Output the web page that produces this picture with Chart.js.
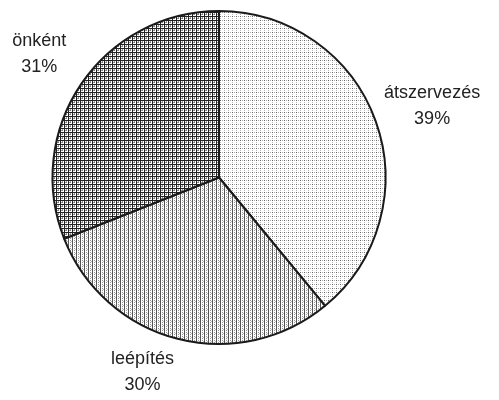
<!DOCTYPE html>
<html>
<head>
<meta charset="utf-8">
<script src="https://cdn.jsdelivr.net/npm/chart.js@4"></script>
<style>
  html, body { margin: 0; padding: 0; background: #fff; }
  #wrap { width: 499px; height: 400px; }
</style>
</head>
<body>
<div id="wrap"><canvas id="pie"></canvas></div>
<script>
const categories = ['átszervezés', 'leépítés', 'önként'];
const shares = [39, 30, 31];
const percentLabels = ['39%', '30%', '31%'];

// label anchor offsets from the pie centre, in multiples of the radius
const labelOffsets = [[1.28, -0.43], [-0.46, 1.17], [-1.08, -0.74]];

function makePattern(kind) {
    const tile = document.createElement('canvas');
    tile.width = 4;
    tile.height = 4;
    const c = tile.getContext('2d');
    c.fillStyle = '#fff';
    c.fillRect(0, 0, 4, 4);
    if (kind === 'dots') {
        c.fillStyle = '#666';
        c.fillRect(0, 0, 1, 1);
        c.fillStyle = '#aaa';
        c.fillRect(2, 0, 1, 1);
        c.fillStyle = '#bbb';
        c.fillRect(0, 2, 1, 1);
    } else if (kind === 'stripes') {
        c.fillStyle = '#555';
        c.fillRect(0, 0, 1, 4);
        c.fillStyle = '#999';
        c.fillRect(2, 0, 1, 1);
        c.fillRect(2, 2, 1, 1);
        c.fillStyle = '#bbb';
        c.fillRect(3, 1, 1, 1);
    } else {
        c.fillStyle = '#222';
        c.fillRect(0, 0, 4, 1);
        c.fillRect(0, 0, 1, 4);
        c.fillStyle = '#777';
        c.fillRect(2, 2, 1, 1);
        c.fillStyle = '#999';
        c.fillRect(2, 1, 1, 1);
        c.fillRect(1, 2, 1, 1);
    }
    return document.getElementById('pie').getContext('2d').createPattern(tile, 'repeat');
}

const sliceLabels = {
    id: 'sliceLabels',
    afterDatasetsDraw(chart) {
        const ctx = chart.ctx;
        const arcs = chart.getDatasetMeta(0).data;
        ctx.save();
        ctx.fillStyle = '#222';
        ctx.font = '18px "Liberation Sans", Arial, sans-serif';
        ctx.textAlign = 'center';
        ctx.textBaseline = 'middle';
        arcs.forEach((arc, i) => {
            const r = arc.outerRadius;
            const x = arc.x + labelOffsets[i][0] * r;
            const y = arc.y + labelOffsets[i][1] * r;
            ctx.fillText(categories[i], x, y - 13);
            ctx.fillText(percentLabels[i], x, y + 13);
        });
        ctx.restore();
    }
};

new Chart(document.getElementById('pie'), {
    type: 'pie',
    data: {
        labels: categories,
        datasets: [{
            data: shares,
            backgroundColor: [makePattern('dots'), makePattern('stripes'), makePattern('grid')],
            borderColor: '#1a1a1a',
            borderWidth: 2
        }]
    },
    options: {
        responsive: true,
        maintainAspectRatio: false,
        animation: false,
        layout: { padding: { top: 10, bottom: 55, left: 0, right: 61 } },
        plugins: {
            legend: { display: false },
            tooltip: { enabled: false }
        }
    },
    plugins: [sliceLabels]
});
</script>
</body>
</html>
